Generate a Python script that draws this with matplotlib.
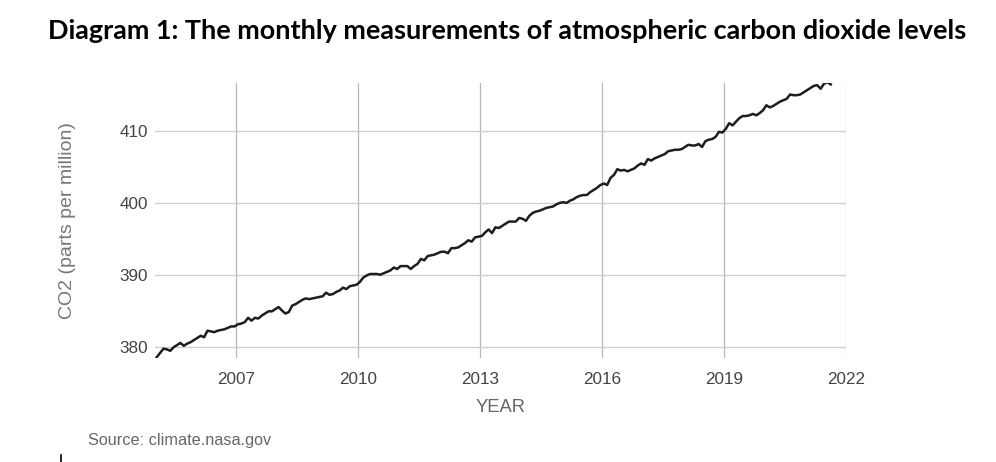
import numpy as np
import matplotlib
matplotlib.use("Agg")
import matplotlib.pyplot as plt
from matplotlib.lines import Line2D

title = "Diagram 1: The monthly measurements of atmospheric carbon dioxide levels"
y_label = "CO2 (parts per million)"
x_label = "YEAR"
source = "Source: climate.nasa.gov"
start_year = 2005
x_ticks = [2007, 2010, 2013, 2016, 2019, 2022]
y_ticks = [380, 390, 400, 410]

co2_2005 = [378.5, 379.1, 379.7, 379.6, 379.4, 379.9, 380.2, 380.5, 380.1, 380.4, 380.6, 380.9]
co2_2006 = [381.2, 381.5, 381.3, 382.2, 382.1, 382.0, 382.2, 382.3, 382.4, 382.6, 382.8, 382.8]
co2_2007 = [383.1, 383.2, 383.4, 384.0, 383.6, 384.0, 383.9, 384.3, 384.6, 384.9, 384.9, 385.2]
co2_2008 = [385.5, 385.0, 384.6, 384.8, 385.7, 385.9, 386.2, 386.5, 386.7, 386.6, 386.7, 386.8]
co2_2009 = [386.9, 387.0, 387.5, 387.2, 387.3, 387.6, 387.8, 388.2, 388.0, 388.4, 388.5, 388.6]
co2_2010 = [389.0, 389.6, 389.9, 390.1, 390.1, 390.1, 390.0, 390.2, 390.4, 390.6, 391.0, 390.8]
co2_2011 = [391.2, 391.2, 391.2, 390.8, 391.2, 391.5, 392.2, 392.0, 392.6, 392.7, 392.8, 393.0]
co2_2012 = [393.2, 393.2, 393.0, 393.7, 393.7, 393.8, 394.1, 394.4, 394.8, 394.6, 395.2, 395.3]
co2_2013 = [395.4, 395.9, 396.3, 395.8, 396.6, 396.5, 396.8, 397.1, 397.4, 397.4, 397.4, 397.9]
co2_2014 = [397.8, 397.5, 398.2, 398.6, 398.8, 398.9, 399.1, 399.3, 399.4, 399.5, 399.8, 400.0]
co2_2015 = [400.1, 400.0, 400.3, 400.5, 400.8, 401.0, 401.1, 401.1, 401.5, 401.8, 402.1, 402.5]
co2_2016 = [402.7, 402.5, 403.5, 403.9, 404.7, 404.5, 404.6, 404.4, 404.6, 404.8, 405.2, 405.5]
co2_2017 = [405.3, 406.1, 405.9, 406.2, 406.4, 406.6, 406.8, 407.2, 407.3, 407.4, 407.4, 407.5]
co2_2018 = [407.8, 408.1, 408.0, 408.0, 408.2, 407.8, 408.6, 408.8, 408.9, 409.2, 409.9, 409.8]
co2_2019 = [410.3, 411.1, 410.8, 411.3, 411.8, 412.1, 412.1, 412.2, 412.4, 412.2, 412.5, 412.9]
co2_2020 = [413.6, 413.3, 413.5, 413.8, 414.1, 414.3, 414.5, 415.1, 415.0, 415.0, 415.1, 415.4]
co2_2021 = [415.7, 416.0, 416.3, 416.4, 415.9, 416.6, 416.8, 416.5]

co2 = (co2_2005 + co2_2006 + co2_2007 + co2_2008 + co2_2009 + co2_2010 + co2_2011 +
       co2_2012 + co2_2013 + co2_2014 + co2_2015 + co2_2016 + co2_2017 + co2_2018 +
       co2_2019 + co2_2020 + co2_2021)
months = np.arange(len(co2))
dates = start_year + (months + 0.5) / 12.0

plt.rcParams['font.family'] = ['Liberation Sans', 'DejaVu Sans']

W, H = 996, 462
L, R, T, B = 155, 846, 83, 358
fig = plt.figure(figsize=(W / 100, H / 100), dpi=100)
ax = fig.add_axes([L / W, 1 - B / H, (R - L) / W, (B - T) / H])

ax.plot(dates, co2, color='#1e1e1e', lw=1.8, solid_joinstyle='round')
ax.set_xlim(2005.0, 2022.0)
ax.set_ylim(378.4, 416.7)
ax.set_xticks(x_ticks)
ax.set_yticks(y_ticks)
ax.tick_params(axis='both', length=0, labelsize=12.3, labelcolor='#444444')
ax.tick_params(axis='x', pad=10)
ax.tick_params(axis='y', pad=5)
ax.grid(axis='x', color='#b8b8b8', lw=0.9)
ax.grid(axis='y', color='#cccccc', lw=0.9)
for s in ax.spines.values():
    s.set_visible(False)
ax.set_axisbelow(True)

ax.set_xlabel(x_label, fontsize=13.2, color='#666666', va='center')
ax.xaxis.set_label_coords(0.5, (B - 407) / (B - T))
ax.set_ylabel(y_label, fontsize=14, color='#777777', va='center')
ax.yaxis.set_label_coords((68 - L) / (R - L), 0.5)

t = fig.text(507 / W, 1 - 31 / H, title, ha='center', va='center',
             fontsize=15, fontweight='bold', family=['Lato', 'DejaVu Sans'], color='black')
fig.canvas.draw()
bb = t.get_window_extent()
t.set_fontsize(15 * 921 / bb.width)

fig.text(88 / W, 1 - 440 / H, source, ha='left', va='center', fontsize=11.7, color='#666666')
fig.add_artist(Line2D([61 / W, 61 / W], [0, 7 / H], color='black', lw=1.2, transform=fig.transFigure))

fig.savefig('out.png', dpi=100)
